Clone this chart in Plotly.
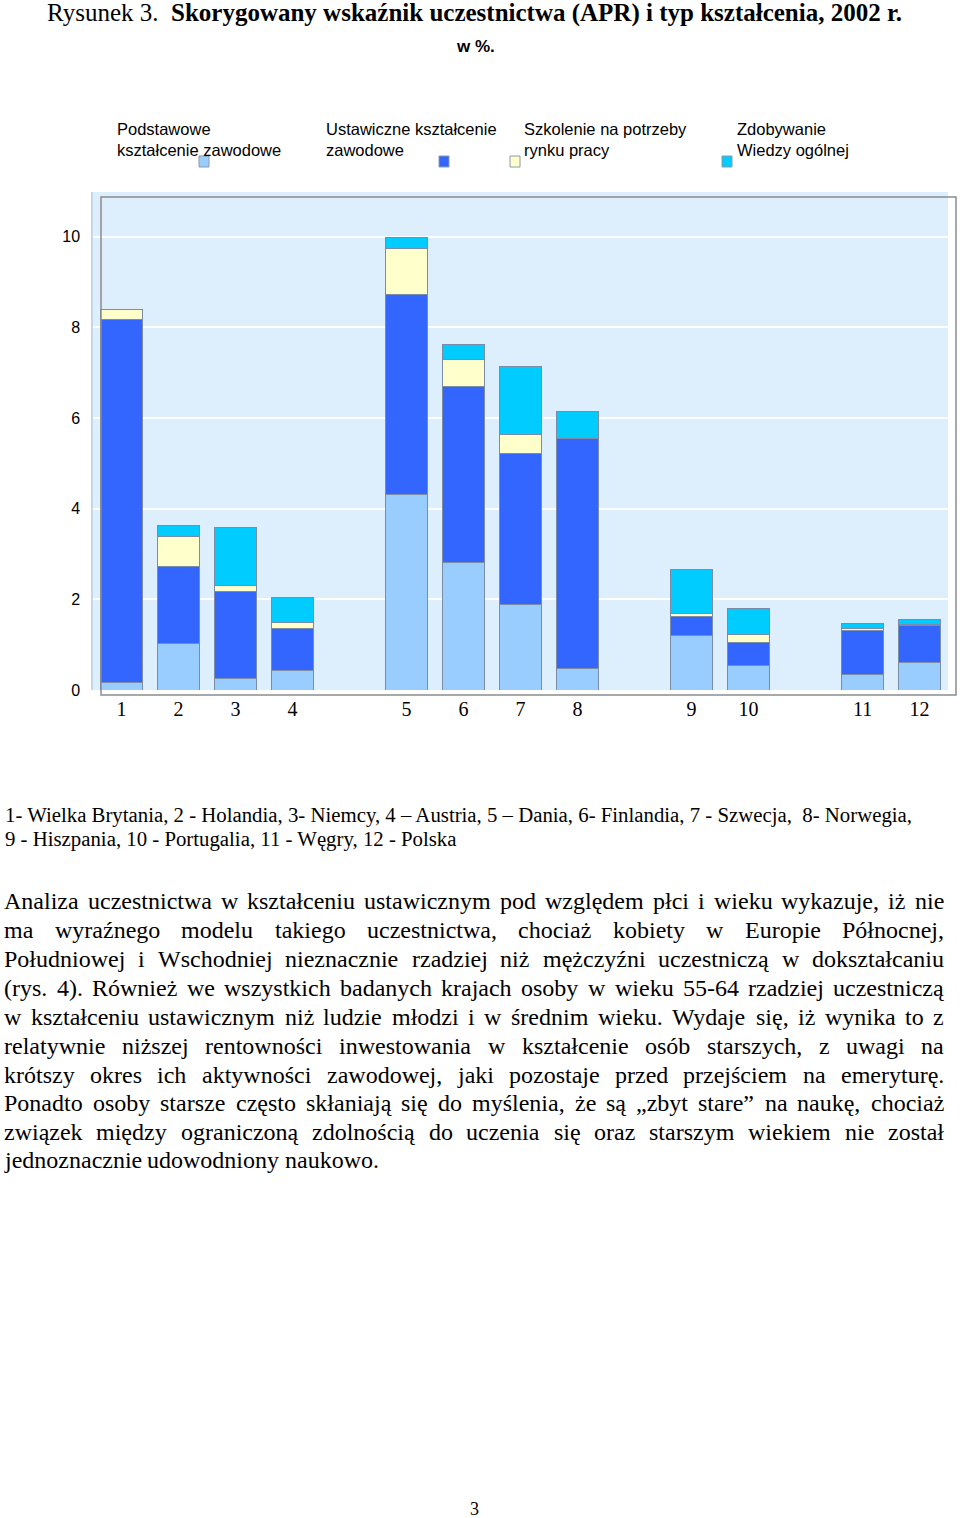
import plotly.graph_objects as go

# ---------------- data ----------------
country_codes = ["1", "2", "3", "4", "5", "6", "7", "8", "9", "10", "11", "12"]
# category slots of the x axis (blank slots give the gaps between country groups)
axis_slots = ["1", "2", "3", "4", " a", "5", "6", "7", "8", " b", "9", "10", " c", "11", "12"]

series_names = [
    "Podstawowe<br>kształcenie zawodowe",
    "Ustawiczne kształcenie<br>zawodowe",
    "Szkolenie na potrzeby<br>rynku pracy",
    "Zdobywanie<br>Wiedzy ogólnej",
]
podstawowe = [0.16, 1.02, 0.26, 0.44, 4.32, 2.81, 1.89, 0.48, 1.21, 0.53, 0.35, 0.61]
ustawiczne = [8.01, 1.70, 1.91, 0.91, 4.40, 3.89, 3.33, 5.06, 0.42, 0.51, 0.96, 0.81]
szkolenie = [0.23, 0.66, 0.13, 0.14, 1.03, 0.59, 0.42, 0.00, 0.05, 0.19, 0.05, 0.03]
wiedza = [0.00, 0.24, 1.28, 0.56, 0.24, 0.33, 1.51, 0.61, 0.99, 0.57, 0.11, 0.11]
series_values = [podstawowe, ustawiczne, szkolenie, wiedza]
series_colors = ["#99CCFF", "#3366FF", "#FFFFCC", "#00CCFF"]

y_ticks = [0, 2, 4, 6, 8, 10]

title_regular = "Rysunek 3."
title_bold = "Skorygowany wskaźnik uczestnictwa (APR) i typ kształcenia, 2002 r."
subtitle = "w %."
caption_lines = [
    "1- Wielka Brytania, 2 - Holandia, 3- Niemcy, 4 – Austria, 5 – Dania, 6- Finlandia, 7 - Szwecja,  8- Norwegia,",
    "9 - Hiszpania, 10 - Portugalia, 11 - Węgry, 12 - Polska",
]
paragraph_lines = [
    "Analiza uczestnictwa w kształceniu ustawicznym pod względem płci i wieku wykazuje, iż nie",
    "ma wyraźnego modelu takiego uczestnictwa, chociaż kobiety w Europie Północnej,",
    "Południowej i Wschodniej nieznacznie rzadziej niż mężczyźni uczestniczą w dokształcaniu",
    "(rys. 4). Również we wszystkich badanych krajach osoby w wieku 55-64 rzadziej uczestniczą",
    "w kształceniu ustawicznym niż ludzie młodzi i w średnim wieku. Wydaje się, iż wynika to z",
    "relatywnie niższej rentowności inwestowania w kształcenie osób starszych, z uwagi na",
    "krótszy okres ich aktywności zawodowej, jaki pozostaje przed przejściem na emeryturę.",
    "Ponadto osoby starsze często skłaniają się do myślenia, że są „zbyt stare” na naukę, chociaż",
    "związek między ograniczoną zdolnością do uczenia się oraz starszym wiekiem nie został",
    "jednoznacznie udowodniony naukowo.",
]
page_number = "3"

# ---------------- layout helpers ----------------
W, H = 960, 1518
L, R, T, B = 93, 12, 192, 828
PW, PH = W - L - R, H - T - B
BASE = H - B


def px(x):
    return (x - L) / PW


def py(y):
    return (BASE - y) / PH


SERIF = "Liberation Serif, Times New Roman, serif"
SANS = "Liberation Sans, Arial, sans-serif"

# Times (Liberation Serif) advance widths, 1/1000 em
TW = {" ": 250, "!": 333, "(": 333, ")": 333, ",": 250, "-": 333, ".": 250, ":": 278, ";": 278,
      "?": 444, "„": 444, "”": 444, "–": 500, "%": 833}
for c in "0123456789":
    TW[c] = 500
TW.update(dict(zip("ABCDEFGHIJKLMNOPQRSTUVWXYZ",
                   [722, 667, 667, 722, 611, 556, 722, 722, 333, 389, 722, 611, 889, 722, 722, 556,
                    722, 667, 556, 611, 722, 722, 944, 722, 722, 611])))
TW.update(dict(zip("abcdefghijklmnopqrstuvwxyz",
                   [444, 500, 444, 500, 444, 333, 500, 500, 278, 278, 500, 278, 778, 500, 500, 500,
                    500, 333, 389, 278, 500, 500, 722, 500, 500, 444])))
TW.update({"ą": 444, "ć": 444, "ę": 444, "ł": 278, "ń": 500, "ó": 500, "ś": 389, "ź": 444, "ż": 444,
           "Ł": 611, "Ś": 556, "Ż": 611, "Ź": 611, "Ó": 722, "Ć": 667})


def tw(s, fs):
    return sum(TW.get(c, 500) for c in s) / 1000.0 * fs


# ---------------- figure ----------------
fig = go.Figure()
for name, vals, col in zip(series_names, series_values, series_colors):
    fig.add_trace(go.Bar(
        x=country_codes, y=vals, name=name.replace("<br>", " "),
        marker=dict(color=col, line=dict(color="#7A8CA8", width=1)),
        width=0.72, showlegend=False,
    ))

annotations = []
shapes = []

# title
annotations.append(dict(
    x=px(474), y=py(13), xref="paper", yref="paper", xanchor="center", yanchor="middle",
    text=title_regular + "  <b>" + title_bold + "</b>", showarrow=False,
    font=dict(family=SERIF, size=25, color="#000000")))
annotations.append(dict(
    x=px(475), y=py(47), xref="paper", yref="paper", xanchor="center", yanchor="middle",
    text="<b>" + subtitle + "</b>", showarrow=False,
    font=dict(family=SANS, size=17, color="#000000")))

# custom legend (text above small colour squares)
legend_text_x = [117, 326, 524, 737]
legend_square_x = [204, 444, 515, 727]
for name, col, tx, sx in zip(series_names, series_colors, legend_text_x, legend_square_x):
    annotations.append(dict(
        x=px(tx - 2), y=py(139), xref="paper", yref="paper", xanchor="left", yanchor="middle",
        text=name, showarrow=False, align="left",
        font=dict(family=SANS, size=16.5, color="#000000")))
    shapes.append(dict(type="rect", xref="paper", yref="paper",
                       x0=px(sx - 5), x1=px(sx + 5), y0=py(167), y1=py(156),
                       fillcolor=col, line=dict(color="#8A9AAA", width=1)))

# front frame of the chart box
shapes.append(dict(type="rect", xref="paper", yref="paper",
                   x0=px(101), x1=px(956), y0=py(695), y1=py(197),
                   line=dict(color="#8C8C8C", width=1.5), fillcolor="rgba(0,0,0,0)", layer="above"))

# caption
for line, y in zip(caption_lines, [815, 839]):
    annotations.append(dict(
        x=px(3), y=py(y), xref="paper", yref="paper", xanchor="left", yanchor="middle",
        text=line.replace("  ", "\u00a0 "), showarrow=False,
        font=dict(family=SERIF, size=20.8, color="#000000")))

# justified paragraph
PFS = 24
left_edge, right_edge = 4, 944
line_ys = [901, 930, 959, 988, 1017, 1046, 1075, 1103, 1132, 1160]
for i, (line, y) in enumerate(zip(paragraph_lines, line_ys)):
    words = line.split(" ")
    widths = [tw(w, PFS) for w in words]
    if i == len(paragraph_lines) - 1 or len(words) < 2:
        gap = tw(" ", PFS)
    else:
        gap = (right_edge - left_edge - sum(widths)) / (len(words) - 1)
    xcur = left_edge
    for w, wd in zip(words, widths):
        annotations.append(dict(
            x=px(xcur - 1), y=py(y), xref="paper", yref="paper", xanchor="left", yanchor="middle",
            text=w, showarrow=False, borderpad=0,
            font=dict(family=SERIF, size=PFS, color="#000000")))
        xcur += wd + gap

# page number
annotations.append(dict(
    x=px(474), y=py(1509), xref="paper", yref="paper", xanchor="center", yanchor="middle",
    text=page_number, showarrow=False, font=dict(family=SERIF, size=18, color="#000000")))

fig.update_layout(
    width=W, height=H,
    margin=dict(l=L, r=R, t=T, b=B, pad=0),
    paper_bgcolor="#FFFFFF",
    plot_bgcolor="#DDEEFD",
    barmode="stack",
    bargap=0.28,
    annotations=annotations,
    shapes=shapes,
    xaxis=dict(
        type="category", categoryorder="array", categoryarray=axis_slots,
        range=[-0.5, len(axis_slots) - 0.5],
        tickmode="array", tickvals=country_codes, ticktext=country_codes,
        ticks="outside", ticklen=1, tickcolor="rgba(0,0,0,0)",
        tickfont=dict(family=SERIF, size=20, color="#000000"),
        showgrid=False, zeroline=False, showline=False, fixedrange=True,
    ),
    yaxis=dict(
        range=[0, 10.99], tickmode="array", tickvals=y_ticks,
        ticks="outside", ticklen=8, tickcolor="rgba(0,0,0,0)",
        tickfont=dict(family=SANS, size=16, color="#000000"),
        showgrid=True, gridcolor="#FFFFFF", gridwidth=1.5,
        zeroline=False, showline=True, linecolor="#C2D6EC", linewidth=1.5,
    ),
)

fig.write_html(
    "out.html",
    config={"displayModeBar": False},
    post_script="document.body.style.margin='0';document.body.style.overflow='hidden';",
)
